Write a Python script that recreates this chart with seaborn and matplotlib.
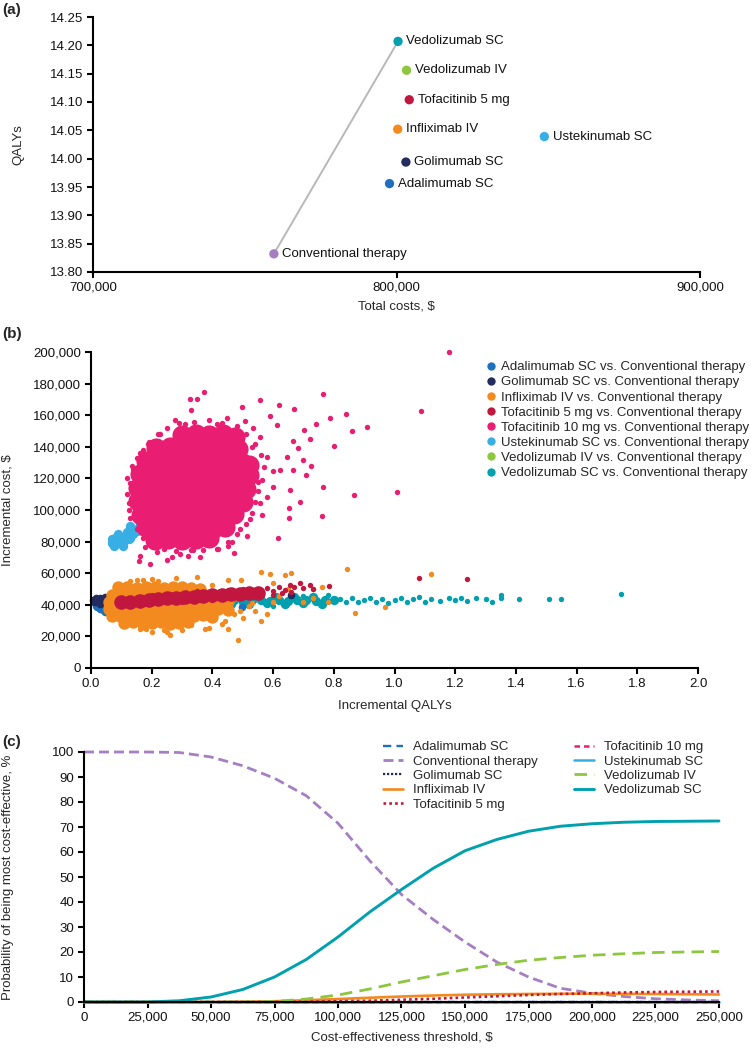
import seaborn as sns
import matplotlib.pyplot as plt
from matplotlib.lines import Line2D

# ---------------- panel (a): total costs vs QALYs ----------------
strategies_a = ["Vedolizumab SC", "Vedolizumab IV", "Tofacitinib 5 mg", "Infliximab IV",
                "Ustekinumab SC", "Golimumab SC", "Adalimumab SC", "Conventional therapy"]
total_costs = [800500, 803300, 804200, 800400, 848700, 803100, 797700, 759600]
qalys = [14.207, 14.156, 14.104, 14.052, 14.039, 13.994, 13.956, 13.832]
frontier = ["Conventional therapy", "Vedolizumab SC"]
cost_ticks = [700000, 800000, 900000]
qaly_ticks = [13.80, 13.85, 13.90, 13.95, 14.00, 14.05, 14.10, 14.15, 14.20, 14.25]

colors = {
    "Adalimumab SC": "#1f6fbf",
    "Conventional therapy": "#a67fc2",
    "Golimumab SC": "#232c5e",
    "Infliximab IV": "#f28a1f",
    "Tofacitinib 5 mg": "#c1173f",
    "Tofacitinib 10 mg": "#e91e72",
    "Ustekinumab SC": "#37aee4",
    "Vedolizumab IV": "#8dc63f",
    "Vedolizumab SC": "#00a0ae",
}

# ---------------- panel (b): incremental cost-effectiveness plane ----------------
ada_x = [0.02, 0.03, 0.04, 0.05, 0.035, 0.055, 0.045, 0.025, 0.06, 0.497, 0.015]
ada_y = [38500, 37500, 36500, 37000, 39000, 38500, 35500, 40000, 36000, 38400, 39500]
gol_x = [0.01, 0.02, 0.03, 0.04, 0.05, 0.02, 0.035, 0.055, 0.015, 0.045, 0.06, 0.66, 0.03, 0.005]
gol_y = [42000, 43500, 44500, 43000, 44000, 41500, 42000, 42500, 44000, 45000, 41500, 46300, 40800, 42800]

vediv_x = [0.25, 0.28, 0.30, 0.32, 0.35]
vediv_y = [43000, 42500, 43000, 44000, 44500]

vedsc_core_x = [0.44, 0.47, 0.50, 0.53, 0.56, 0.59, 0.62, 0.65, 0.68, 0.71, 0.74, 0.77, 0.80,
                0.46, 0.52, 0.58, 0.64, 0.70, 0.76, 0.49, 0.55, 0.61, 0.67, 0.73]
vedsc_core_y = [42500, 43000, 42000, 42800, 43200, 42500, 43000, 42600, 43300, 42800, 42400, 43100, 42800,
                40800, 40800, 41000, 40800, 41000, 40800, 44800, 45000, 44800, 45000, 44800]
vedsc_x = [0.82, 0.84, 0.86, 0.88, 0.90, 0.92, 0.94, 0.96, 0.98, 1.00, 1.02, 1.04, 1.06, 1.08,
           1.10, 1.12, 1.15, 1.18, 1.20, 1.22, 1.24, 1.27, 1.30, 1.32, 1.35, 1.35, 1.41, 1.51,
           1.55, 1.745, 0.45, 0.60, 0.70, 0.78]
vedsc_y = [43500, 42000, 44000, 41500, 43000, 44500, 42000, 43500, 41000, 43000, 44000, 41500, 43500, 45000,
           42000, 43800, 42500, 44500, 43000, 44000, 42500, 44500, 43500, 42000, 46000, 44000, 43500, 43500,
           43500, 47000, 38000, 39500, 45500, 46000]

inf_core_x = [0.09, 0.12, 0.15, 0.18, 0.21, 0.24, 0.27, 0.30, 0.33, 0.36,
              0.07, 0.10, 0.13, 0.16, 0.19, 0.22, 0.25, 0.28, 0.31, 0.34, 0.37, 0.40, 0.43,
              0.06, 0.09, 0.12, 0.15, 0.18, 0.21, 0.24, 0.27, 0.30, 0.33, 0.36, 0.39, 0.42, 0.45,
              0.06, 0.09, 0.12, 0.15, 0.18, 0.21, 0.24, 0.27, 0.30, 0.33, 0.36, 0.39, 0.42, 0.45,
              0.07, 0.10, 0.13, 0.16, 0.19, 0.22, 0.25, 0.28, 0.31, 0.34, 0.37, 0.40,
              0.11, 0.14, 0.17, 0.20, 0.23, 0.26, 0.29, 0.32]
inf_core_y = [51000, 51500, 50500, 51000, 51500, 50500, 51000, 51500, 50500, 50000,
              46500, 47000, 46000, 46500, 47000, 46000, 46500, 47000, 46000, 46500, 47000, 46000, 46500,
              42000, 42500, 41500, 42000, 42500, 41500, 42000, 42500, 41500, 42000, 42500, 41500, 42000, 42500,
              37500, 37000, 38000, 37500, 37000, 38000, 37500, 37000, 38000, 37500, 37000, 38000, 37500, 37000,
              33000, 33500, 32500, 33000, 33500, 32500, 33000, 33500, 32500, 33000, 33500, 32500,
              28500, 29000, 28000, 28500, 29000, 28000, 28500, 29000]
inf_x = [0.56, 0.59, 0.495, 0.45, 0.60, 0.64, 0.66, 0.73, 0.845, 1.12, 0.87, 0.97, 0.485, 0.45, 0.375,
         0.39, 0.26, 0.33, 0.12, 0.10, 0.56, 0.58, 0.54, 0.52, 0.60, 0.65, 0.73, 0.76, 0.62, 0.50,
         0.48, 0.47, 0.44, 0.07, 0.06, 0.20, 0.15, 0.28, 0.40, 0.42, 0.30, 0.20, 0.18, 0.08, 0.50,
         0.55, 0.78, 0.70, 0.53, 0.09, 0.35, 0.25, 0.13, 0.17, 0.24, 0.22, 0.16, 0.05, 0.49, 0.43]
inf_y = [61000, 59500, 56000, 55500, 54000, 59000, 60000, 50000, 62500, 59500, 35000, 38500, 18000, 24500, 25000,
         25500, 21000, 27000, 27000, 30000, 30000, 34000, 36000, 39000, 42000, 50000, 44000, 51500, 45500, 48000,
         44000, 34000, 30000, 48000, 35000, 56500, 56000, 57000, 52500, 47000, 24000, 23000, 24500, 52000, 31500,
         46000, 42000, 42000, 41000, 31000, 57500, 23000, 55000, 55500, 24000, 55000, 25000, 40000, 36000, 28000]

tof5_core_x = [0.10, 0.13, 0.16, 0.19, 0.22, 0.25, 0.28, 0.31, 0.34, 0.37, 0.40, 0.43, 0.46, 0.49, 0.52, 0.55]
tof5_core_y = [41500, 42000, 42500, 43000, 43500, 44000, 44300, 44800, 45200, 45500, 46000, 46300, 46700, 47000,
               47300, 47500]
tof5_x = [0.60, 0.62, 0.64, 0.655, 0.67, 0.69, 0.73, 0.785, 1.08, 1.24, 0.58, 0.56, 0.63, 0.50, 0.45, 0.42,
          0.53, 0.60, 0.66, 0.70, 0.72, 0.35, 0.26, 0.20, 0.15, 0.12, 0.30, 0.40]
tof5_y = [49000, 51000, 49500, 52500, 51500, 53500, 50000, 52000, 57000, 56500, 50500, 48500, 47500, 50000,
          49500, 48000, 45000, 46500, 48000, 50500, 52500, 48500, 47000, 46000, 45000, 40500, 41500, 43000]

ust_x = [0.07, 0.08, 0.09, 0.10, 0.11, 0.12, 0.08, 0.10, 0.12, 0.13, 0.14, 0.11, 0.13, 0.15, 0.16, 0.14,
         0.16, 0.18, 0.07, 0.09, 0.20, 0.22, 0.25, 0.075, 0.105, 0.125, 0.497]
ust_y = [79000, 82000, 80000, 83000, 80500, 84000, 78500, 79000, 86000, 82000, 88000, 81000, 90000, 87000,
         91000, 84500, 88000, 92000, 81500, 85000, 90000, 93000, 95000, 77500, 77500, 81500, 107500]

tof10_core_x = [0.30, 0.345, 0.39, 0.435, 0.475,
                0.215, 0.26, 0.305, 0.35, 0.395, 0.44, 0.485,
                0.18, 0.225, 0.27, 0.315, 0.36, 0.405, 0.45, 0.495, 0.52,
                0.16, 0.205, 0.25, 0.295, 0.34, 0.385, 0.43, 0.475, 0.52,
                0.155, 0.20, 0.245, 0.29, 0.335, 0.38, 0.425, 0.47, 0.51,
                0.155, 0.20, 0.245, 0.29, 0.335, 0.38, 0.425, 0.47, 0.50,
                0.165, 0.21, 0.255, 0.30, 0.345, 0.39, 0.435, 0.47,
                0.18, 0.225, 0.27, 0.315, 0.36, 0.405, 0.44,
                0.21, 0.255, 0.30, 0.345, 0.39]
tof10_core_y = [147500, 148000, 147500, 148000, 146500,
                139000, 140000, 139500, 140000, 139000, 139500, 138500,
                131000, 131500, 131000, 132000, 131000, 131500, 131000, 130500, 128500,
                122500, 123000, 122500, 123000, 122500, 123000, 122500, 122000, 122000,
                114000, 114500, 114000, 114500, 114000, 114500, 114000, 114500, 113500,
                105500, 106000, 105500, 106000, 105500, 106000, 105500, 106000, 105000,
                97000, 97500, 97000, 97500, 97000, 97500, 97000, 97500,
                89000, 88500, 89000, 88500, 89000, 88500, 89500,
                81000, 81500, 81000, 81500, 82000]
tof10_x = [1.18, 0.763, 0.373, 0.326, 0.348, 0.557, 0.497, 0.33, 0.618, 0.67, 0.84, 0.786, 0.911, 0.859,
           1.088, 0.742, 0.703, 0.722, 0.802, 0.681, 0.724, 0.708, 0.764, 1.008, 0.865, 0.69, 0.651, 0.651,
           0.76, 0.617, 0.563, 0.524, 0.157, 0.195, 0.129, 0.125, 0.601, 0.623, 0.579, 0.557, 0.59, 0.612,
           0.508, 0.535, 0.447, 0.414, 0.31, 0.277, 0.227, 0.189, 0.464, 0.414, 0.293, 0.266, 0.216, 0.178,
           0.337, 0.491, 0.513, 0.557, 0.656, 0.667, 0.70, 0.645, 0.667, 0.25, 0.32, 0.12, 0.135, 0.16,
           0.55, 0.58, 0.60, 0.53, 0.40, 0.45,
           0.14, 0.15, 0.17, 0.19, 0.22, 0.25, 0.29, 0.34, 0.39, 0.43, 0.48, 0.51, 0.54, 0.56, 0.57, 0.565,
           0.55, 0.54, 0.53, 0.51, 0.48, 0.45, 0.42, 0.37, 0.33, 0.28, 0.24, 0.20, 0.17, 0.15, 0.13, 0.125,
           0.12, 0.16, 0.36, 0.47]
tof10_y = [200000, 173400, 174500, 170500, 170000, 169500, 165300, 163000, 166400, 163700, 160500, 158000,
           152600, 150000, 162600, 154700, 150800, 145000, 140200, 139000, 127700, 121900, 114400, 111700,
           109300, 105000, 101000, 95000, 96000, 82000, 97000, 94000, 68000, 66000, 117000, 104500, 114800,
           125200, 133500, 146000, 159700, 154000, 156400, 152200, 158500, 154300, 154300, 157000, 148000,
           141800, 79500, 75400, 72300, 70200, 73300, 76400, 74400, 87800, 83700, 104600, 112800, 125200,
           131500, 133500, 143900, 68500, 71000, 110000, 128000, 136000, 118000, 108000, 125000, 140000,
           80000, 77000,
           126000, 133000, 138000, 143000, 148000, 152000, 155000, 156000, 157000, 155000, 153000, 148000,
           142000, 135000, 127000, 119000, 112000, 105000, 98000, 91000, 85000, 80000, 75500, 74500,
           75000, 74000, 75500, 78000, 82000, 88000, 95000, 100000, 120000, 71000, 70000, 73000]

pairs_b = ["Adalimumab SC", "Golimumab SC", "Infliximab IV", "Tofacitinib 5 mg", "Tofacitinib 10 mg",
           "Ustekinumab SC", "Vedolizumab IV", "Vedolizumab SC"]
qaly_inc_ticks = [0.0, 0.2, 0.4, 0.6, 0.8, 1.0, 1.2, 1.4, 1.6, 1.8, 2.0]
cost_inc_ticks = [0, 20000, 40000, 60000, 80000, 100000, 120000, 140000, 160000, 180000, 200000]

# ---------------- panel (c): cost-effectiveness acceptability curves ----------------
thresholds = [0, 12500, 25000, 37500, 50000, 62500, 75000, 87500, 100000, 112500, 125000,
              137500, 150000, 162500, 175000, 187500, 200000, 212500, 225000, 237500, 250000]
prob = {
    "Adalimumab SC":        [0, 0, 0, 0, 0, 0, 0, 0, 0, 0, 0, 0, 0, 0, 0, 0, 0, 0, 0, 0, 0],
    "Conventional therapy": [100, 100, 100, 99.8, 98, 94.5, 89.5, 82.5, 71.5, 56.5, 43, 33, 24, 16,
                             10, 5.5, 3.5, 2.2, 1.3, 0.8, 0.5],
    "Golimumab SC":         [0, 0, 0, 0, 0, 0, 0, 0, 0, 0, 0, 0, 0, 0, 0, 0, 0, 0, 0, 0, 0],
    "Infliximab IV":        [0, 0, 0, 0, 0, 0.1, 0.3, 0.7, 1.2, 1.7, 2.2, 2.6, 2.9, 3.1, 3.2, 3.3, 3.3,
                             3.25, 3.2, 3.1, 3.0],
    "Tofacitinib 5 mg":     [0, 0, 0, 0, 0, 0, 0, 0.1, 0.3, 0.5, 0.9, 1.3, 1.8, 2.3, 2.8, 3.2, 3.5, 3.8,
                             4.0, 4.1, 4.2],
    "Tofacitinib 10 mg":    [0, 0, 0, 0, 0, 0, 0, 0, 0, 0, 0, 0, 0, 0, 0, 0, 0, 0, 0, 0, 0],
    "Ustekinumab SC":       [0, 0, 0, 0, 0, 0, 0, 0, 0, 0, 0, 0, 0, 0, 0, 0, 0, 0, 0, 0, 0],
    "Vedolizumab IV":       [0, 0, 0, 0, 0, 0, 0.2, 1.2, 2.8, 5.2, 8, 10.5, 13, 15, 16.7, 17.8, 18.7,
                             19.3, 19.8, 20.0, 20.2],
    "Vedolizumab SC":       [0, 0, 0, 0.5, 2, 5, 10, 17, 26, 36, 45, 53.5, 60.5, 65, 68.3, 70.3, 71.3,
                             71.9, 72.2, 72.3, 72.4],
}
threshold_ticks = [0, 25000, 50000, 75000, 100000, 125000, 150000, 175000, 200000, 225000, 250000]
prob_ticks = [0, 10, 20, 30, 40, 50, 60, 70, 80, 90, 100]
line_styles = {
    "Adalimumab SC": (1.7, (0, (3.5, 2.2))),
    "Conventional therapy": (2.0, (0, (3.6, 1.8))),
    "Golimumab SC": (1.6, (0, (1.0, 0.8))),
    "Infliximab IV": (1.9, "-"),
    "Tofacitinib 5 mg": (1.9, (0, (1.0, 1.2))),
    "Tofacitinib 10 mg": (1.8, (0, (2.2, 1.6))),
    "Ustekinumab SC": (1.8, "-"),
    "Vedolizumab IV": (2.0, (0, (4.5, 2.6))),
    "Vedolizumab SC": (2.1, "-"),
}

# ---------------- figure ----------------
W, H = 751, 1050


def px_rect(l, t, r, b):
    return [l / W, 1 - b / H, (r - l) / W, (b - t) / H]


def fmt(v):
    return f"{v:,}"


def style_axes(ax, size):
    sns.despine(ax=ax)
    for s in ("left", "bottom"):
        ax.spines[s].set_linewidth(1.5)
        ax.spines[s].set_color("black")
    ax.tick_params(width=1.5, length=4, color="black", labelsize=size, pad=3, labelcolor="#111111")


sns.set_theme(style="ticks")
plt.rcParams["font.family"] = ["Liberation Sans", "DejaVu Sans"]

fig = plt.figure(figsize=(7.51, 10.5), dpi=100)

# ----- (a)
ax_a = fig.add_axes(px_rect(93, 17, 700, 272))
fx = [total_costs[strategies_a.index(s)] for s in frontier]
fy = [qalys[strategies_a.index(s)] for s in frontier]
sns.lineplot(x=fx, y=fy, color="#b8b8b8", lw=1.4, ax=ax_a, zorder=2)
sns.scatterplot(x=total_costs, y=qalys, hue=strategies_a, palette=colors, s=45, linewidth=0,
                legend=False, ax=ax_a, zorder=3)
for name, cx, qy in zip(strategies_a, total_costs, qalys):
    ax_a.annotate(name, (cx, qy), xytext=(6, 0), textcoords="offset points", va="center",
                  ha="left", fontsize=9.5, color="#111111")
ax_a.set_xlim(cost_ticks[0], cost_ticks[-1])
ax_a.set_ylim(qaly_ticks[0], qaly_ticks[-1])
ax_a.set_xticks(cost_ticks)
ax_a.set_xticklabels([fmt(v) for v in cost_ticks])
ax_a.set_yticks(qaly_ticks)
ax_a.set_yticklabels([f"{v:.2f}" for v in qaly_ticks])
style_axes(ax_a, 9.5)
ax_a.set_xlabel("Total costs, $", fontsize=9.5)
ax_a.set_ylabel("QALYs", fontsize=9.5)
ax_a.xaxis.set_label_coords(0.5, -(301 - 272) / 255)
ax_a.yaxis.set_label_coords((24 - 93) / 607, 0.5)

# ----- (b)
ax_b = fig.add_axes(px_rect(91, 352, 698, 668))
pt = 15
layers = [
    ("Vedolizumab IV", vediv_x, vediv_y, 60),
    ("Vedolizumab SC", vedsc_core_x, vedsc_core_y, 45),
    ("Vedolizumab SC", vedsc_x, vedsc_y, pt),
    ("Adalimumab SC", ada_x, ada_y, 30),
    ("Golimumab SC", gol_x, gol_y, 30),
    ("Infliximab IV", inf_core_x, inf_core_y, 80),
    ("Infliximab IV", inf_x, inf_y, pt),
    ("Tofacitinib 5 mg", tof5_core_x, tof5_core_y, 110),
    ("Tofacitinib 5 mg", tof5_x, tof5_y, pt),
    ("Ustekinumab SC", ust_x, ust_y, 45),
    ("Tofacitinib 10 mg", tof10_core_x, tof10_core_y, 210),
    ("Tofacitinib 10 mg", tof10_x, tof10_y, pt),
]
for name, xs, ys, size in layers:
    sns.scatterplot(x=xs, y=ys, color=colors[name], s=size, linewidth=0, ax=ax_b, clip_on=False)
ax_b.set_xlim(qaly_inc_ticks[0], qaly_inc_ticks[-1])
ax_b.set_ylim(cost_inc_ticks[0], cost_inc_ticks[-1])
ax_b.set_xticks(qaly_inc_ticks)
ax_b.set_xticklabels([f"{v:.1f}" for v in qaly_inc_ticks])
ax_b.set_yticks(cost_inc_ticks)
ax_b.set_yticklabels([fmt(v) for v in cost_inc_ticks])
style_axes(ax_b, 9.5)
ax_b.set_xlabel("Incremental QALYs", fontsize=9.5)
ax_b.set_ylabel("Incremental cost, $", fontsize=9.5)
ax_b.xaxis.set_label_coords(0.5, -(700 - 668) / 316)
ax_b.yaxis.set_label_coords((14 - 91) / 607, 0.5)
handles_b = [Line2D([], [], ls="", marker="o", markersize=6, markeredgewidth=0, color=colors[p])
             for p in pairs_b]
ax_b.legend(handles_b, [f"{p} vs. Conventional therapy" for p in pairs_b], loc="upper left",
            bbox_to_anchor=(486 / W, 1 - 361 / H), bbox_transform=fig.transFigure, frameon=False,
            fontsize=9.5, handlelength=0.7, handletextpad=0.45, labelspacing=0.22, borderpad=0,
            borderaxespad=0)

# ----- (c)
ax_c = fig.add_axes(px_rect(84, 752, 719, 1002))
for name, vals in prob.items():
    lw, ls = line_styles[name]
    sns.lineplot(x=thresholds, y=vals, color=colors[name], lw=lw, linestyle=ls, label=name,
                 ax=ax_c, clip_on=False)
ax_c.set_xlim(threshold_ticks[0], threshold_ticks[-1])
ax_c.set_ylim(prob_ticks[0], prob_ticks[-1])
ax_c.set_xticks(threshold_ticks)
ax_c.set_xticklabels([fmt(v) for v in threshold_ticks])
ax_c.set_yticks(prob_ticks)
ax_c.set_yticklabels([str(v) for v in prob_ticks])
style_axes(ax_c, 9.5)
ax_c.set_xlabel("Cost-effectiveness threshold, $", fontsize=9.5)
ax_c.set_ylabel("Probability of being most cost-effective, %", fontsize=9.5)
ax_c.xaxis.set_label_coords(0.5, -(1031 - 1002) / 250)
ax_c.yaxis.set_label_coords((14 - 84) / 635, 0.5)
ax_c.legend(loc="upper left", bbox_to_anchor=(383 / W, 1 - 741 / H), bbox_transform=fig.transFigure,
            ncol=2, frameon=False, fontsize=9.5, handlelength=1.55, handletextpad=0.75,
            columnspacing=2.7, labelspacing=0.16, borderpad=0, borderaxespad=0)

for lbl, ytop in (("(a)", 3), ("(b)", 327), ("(c)", 735)):
    fig.text(2 / W, 1 - ytop / H, lbl, fontsize=11, fontweight="bold", va="top", ha="left")

fig.savefig("out.png", dpi=100)
